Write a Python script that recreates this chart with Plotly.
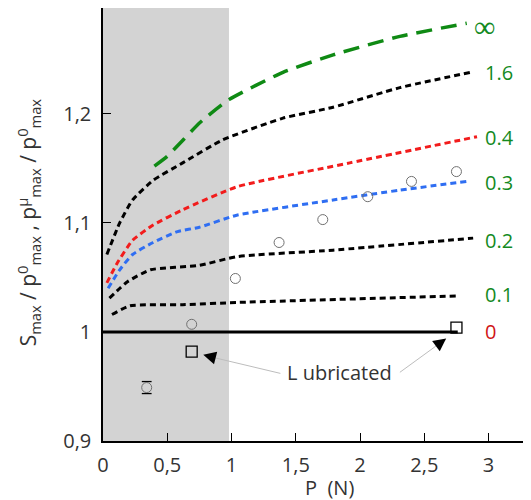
import plotly.graph_objects as go

# ---- data ----
P_inf = [0.40, 0.50, 0.755, 0.98, 1.40, 1.79, 2.31, 2.83]
S_inf = [1.152, 1.161, 1.192, 1.213, 1.238, 1.254, 1.271, 1.283]

P_16 = [0.03, 0.13, 0.23, 0.39, 0.62, 0.93, 1.40, 1.79, 2.31, 2.86]
S_16 = [1.071, 1.100, 1.121, 1.139, 1.155, 1.176, 1.196, 1.206, 1.224, 1.238]

P_04 = [0.03, 0.11, 0.23, 0.39, 0.62, 1.04, 1.92, 2.91]
S_04 = [1.045, 1.063, 1.084, 1.098, 1.112, 1.133, 1.155, 1.179]

P_03 = [0.04, 0.13, 0.23, 0.39, 0.58, 0.75, 1.04, 1.79, 2.31, 2.83]
S_03 = [1.040, 1.057, 1.071, 1.082, 1.092, 1.096, 1.107, 1.121, 1.130, 1.138]

P_02 = [0.05, 0.19, 0.37, 0.75, 1.04, 1.79, 2.88]
S_02 = [1.031, 1.046, 1.057, 1.061, 1.069, 1.075, 1.086]

P_01 = [0.07, 0.21, 0.62, 1.04, 2.76]
S_01 = [1.016, 1.024, 1.025, 1.027, 1.033]

P_00 = [0.0, 2.76]
S_00 = [1.0, 1.0]

P_exp = [0.34, 0.69, 1.03, 1.37, 1.71, 2.06, 2.40, 2.75]
S_exp = [0.949, 1.007, 1.049, 1.082, 1.103, 1.124, 1.138, 1.147]

P_err = [0.34]
S_err = [0.949]
E_err = [0.0055]

P_lub = [0.69, 2.75]
S_lub = [0.982, 1.004]

curve_labels = ["∞", "1.6", "0.4", "0.3", "0.2", "0.1", "0"]
label_y = [1.281, 1.238, 1.178, 1.137, 1.084, 1.034, 1.0]

x_ticks = [0, 0.5, 1, 1.5, 2, 2.5, 3]
y_ticks = [0.9, 1.0, 1.1, 1.2]

FONT = "Open Sans"
GREEN = "#138a1e"

fig = go.Figure()

def curve(x, y, color, dash, width=3):
    fig.add_trace(go.Scatter(x=x, y=y, mode="lines",
                             line=dict(color=color, dash=dash, width=width, shape="spline", smoothing=0.5),
                             showlegend=False, hoverinfo="skip"))

curve(P_inf, S_inf, "#0f8a14", "16px,9px", 3.5)
curve(P_16, S_16, "black", "6px,4px")
curve(P_04, S_04, "#f21c1c", "6px,4px")
curve(P_03, S_03, "#2f6ef2", "6px,4px")
curve(P_02, S_02, "black", "6px,4px")
curve(P_01, S_01, "black", "6px,4px")
fig.add_trace(go.Scatter(x=P_00, y=S_00, mode="lines", line=dict(color="black", width=3),
                         showlegend=False, hoverinfo="skip"))

# error-bar caps
cap_x = P_err + P_err
cap_y = [s + e for s, e in zip(S_err, E_err)] + [s - e for s, e in zip(S_err, E_err)]
fig.add_trace(go.Scatter(x=cap_x, y=cap_y, mode="markers",
                         marker=dict(symbol="line-ew-open", size=7, color="black", line=dict(width=1.3)),
                         showlegend=False, hoverinfo="skip"))
fig.add_trace(go.Scatter(x=P_exp, y=S_exp, mode="markers",
                         marker=dict(symbol="circle-open", size=10, color="#707070", line=dict(width=1)),
                         showlegend=False))
fig.add_trace(go.Scatter(x=P_lub, y=S_lub, mode="markers",
                         marker=dict(symbol="square-open", size=11, color="black", line=dict(width=1.3)),
                         showlegend=False))

# shaded region
fig.add_shape(type="rect", xref="x", yref="y", x0=0, x1=0.98, y0=0.9, y1=1.3,
              fillcolor="#d3d3d3", line_width=0, layer="below")

# curve labels
for t, yv in zip(curve_labels, label_y):
    if t == "∞":
        f = dict(family="Noto Sans", size=30, color=GREEN)
        xv = 2.87
    else:
        f = dict(family=FONT, size=20, color="#d01515" if t == "0" else GREEN)
        xv = 2.96
    fig.add_annotation(x=xv, y=yv, text=t, showarrow=False, xanchor="left", yanchor="middle", font=f)

# "Lubricated" annotation
fig.add_annotation(x=1.84, y=0.963, text="L ubricated", showarrow=False,
                   font=dict(family=FONT, size=20, color="#333333"))
tails = [(1.38, 0.962), (2.31, 0.963)]
tips = [(0.78, 0.979), (2.67, 0.994)]
backs = [(0.88, 0.976), (2.59, 0.987)]
for (tx, ty), (hx, hy), (bx, by) in zip(tails, tips, backs):
    fig.add_shape(type="line", xref="x", yref="y", x0=tx, y0=ty, x1=bx, y1=by,
                  line=dict(color="#bdbdbd", width=1))
    fig.add_annotation(x=hx, y=hy, ax=bx, ay=by, axref="x", ayref="y", text="", showarrow=True,
                       arrowhead=2, arrowsize=1.7, arrowwidth=1.5, arrowcolor="black")

# axis titles as annotations for exact placement
fig.add_annotation(xref="paper", yref="paper", x=0.530, y=0, yshift=-46, text="P  (N)", showarrow=False,
                   xanchor="center", yanchor="middle", font=dict(family=FONT, size=20, color="#333333"))
fig.add_annotation(xref="paper", yref="paper", x=0, xshift=-75, y=0.505, textangle=-90,
                   text="S<sub>max</sub> / p<sup>0</sup><sub>max</sub> , p<sup>µ</sup><sub>max</sub> / p<sup>0</sup><sub>max</sub>",
                   showarrow=False, xanchor="center", yanchor="middle",
                   font=dict(family=FONT, size=21, color="#333333"))

fig.update_layout(
    width=523, height=492,
    margin=dict(l=95, r=0, t=0, b=59, autoexpand=False),
    paper_bgcolor="white", plot_bgcolor="white",
    separators=", ",
    font=dict(family=FONT, size=20, color="#333333"),
    showlegend=False,
)
fig.update_xaxes(range=[0, 3.33], tickvals=x_ticks, ticks="inside", ticklen=8, tickcolor="black",
                 showline=True, linecolor="black", linewidth=1.5, mirror=True, showgrid=False, zeroline=False,
                 tickfont=dict(size=20), ticklabelstandoff=5, automargin=False)
fig.update_yaxes(range=[0.9, 1.297], tickvals=y_ticks, ticks="inside", ticklen=8, tickcolor="black",
                 showline=True, linecolor="black", linewidth=1.5, showgrid=False, zeroline=False,
                 tickfont=dict(size=20), ticklabelstandoff=6, automargin=False)

fig.write_html("out.html")
